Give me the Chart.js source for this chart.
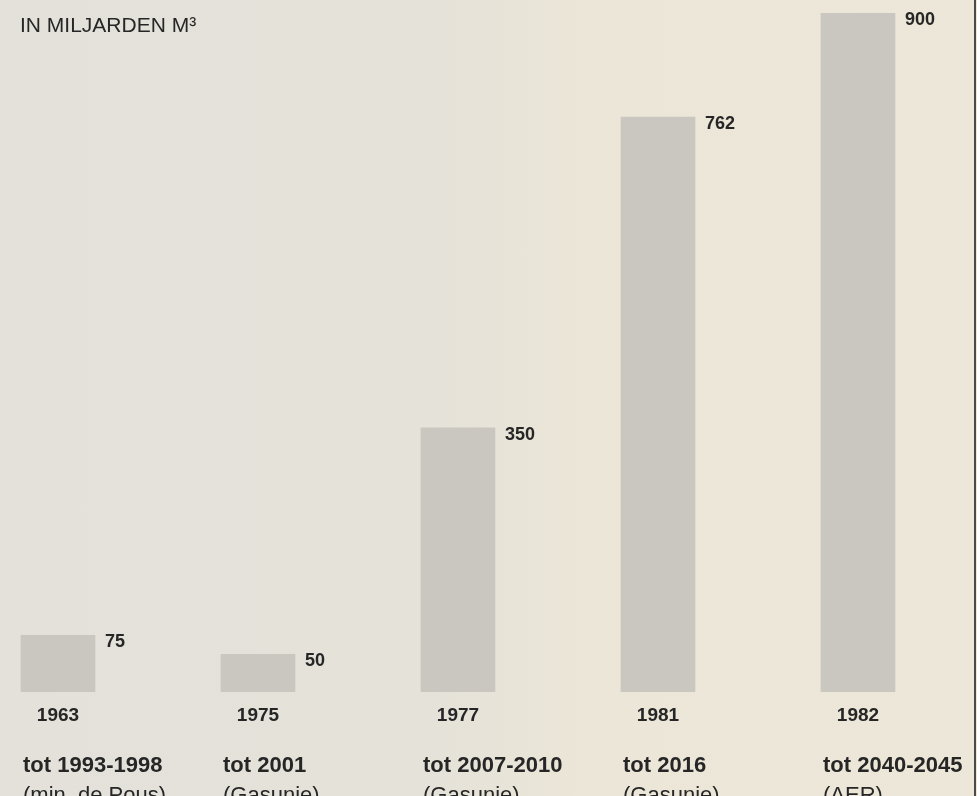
<!DOCTYPE html>
<html>
<head>
<meta charset="utf-8">
<script src="https://cdn.jsdelivr.net/npm/chart.js@4.4.0/dist/chart.umd.min.js"></script>
<style>
    html, body { margin: 0; padding: 0; }
    body {
        width: 977px; height: 796px; overflow: hidden; position: relative;
        background: linear-gradient(90deg, #e3e1da 0%, #e5e2d9 45%, #ebe6d7 60%, #ece7d9 100%);
    }
    #wrap { position: absolute; left: -42px; top: 0; width: 1042px; height: 796px; }
    #edge { position: absolute; left: 974px; top: 0; width: 2px; height: 796px; background: #4a4a4a; }
</style>
</head>
<body>
<div id="wrap"><canvas id="myChart"></canvas></div>
<div id="edge"></div>
<script>
const years = ['1963', '1975', '1977', '1981', '1982'];
const reserves = [75, 50, 350, 762, 900];
const untilLabels = ['tot 1993-1998', 'tot 2001', 'tot 2007-2010', 'tot 2016', 'tot 2040-2045'];
const sources = ['(min. de Pous)', '(Gasunie)', '(Gasunie)', '(Gasunie)', '(AER)'];
const unitLabel = 'IN MILJARDEN M³';

const textColor = '#262626';

// value labels, unit title and the "tot ..." captions
const annotations = {
    id: 'annotations',
    afterDatasetsDraw(chart) {
        const ctx = chart.ctx;
        const meta = chart.getDatasetMeta(0);
        ctx.save();
        ctx.fillStyle = textColor;

        ctx.font = '21px "Liberation Sans"';
        ctx.textBaseline = 'alphabetic';
        ctx.textAlign = 'left';
        ctx.fillText(unitLabel, 62, 32);

        meta.data.forEach((bar, i) => {
            const left = bar.x - bar.width / 2;
            const right = bar.x + bar.width / 2;

            ctx.font = 'bold 18px "Liberation Sans"';
            ctx.textBaseline = 'top';
            ctx.fillText(String(reserves[i]), right + 10, bar.y - 2);

            ctx.textBaseline = 'alphabetic';
            ctx.font = 'bold 22px "Liberation Sans"';
            ctx.fillText(untilLabels[i], left + 2, 772);
            ctx.font = '22px "Liberation Sans"';
            ctx.fillText(sources[i], left + 2, 802);
        });
        ctx.restore();
    }
};

const ctx = document.getElementById('myChart').getContext('2d');
const chart = new Chart(ctx, {
    type: 'bar',
    data: {
        labels: years,
        datasets: [{
            data: reserves,
            backgroundColor: '#cac7c0',
            borderWidth: 0,
            barThickness: 74
        }]
    },
    plugins: [annotations],
    options: {
        responsive: true,
        maintainAspectRatio: false,
        animation: false,
        layout: { padding: { top: 13, right: 42, left: 0, bottom: 0 } },
        plugins: {
            legend: { display: false },
            tooltip: { enabled: false }
        },
        scales: {
            x: {
                grid: { display: false, drawTicks: false },
                border: { display: false },
                ticks: {
                    color: textColor,
                    font: { family: 'Liberation Sans', size: 19, weight: 'bold' },
                    padding: 12,
                    maxRotation: 0,
                    autoSkip: false
                },
                afterFit(axis) { axis.height = 104; }
            },
            y: {
                display: false,
                min: 0,
                max: 900
            }
        }
    }
});
</script>
</body>
</html>
